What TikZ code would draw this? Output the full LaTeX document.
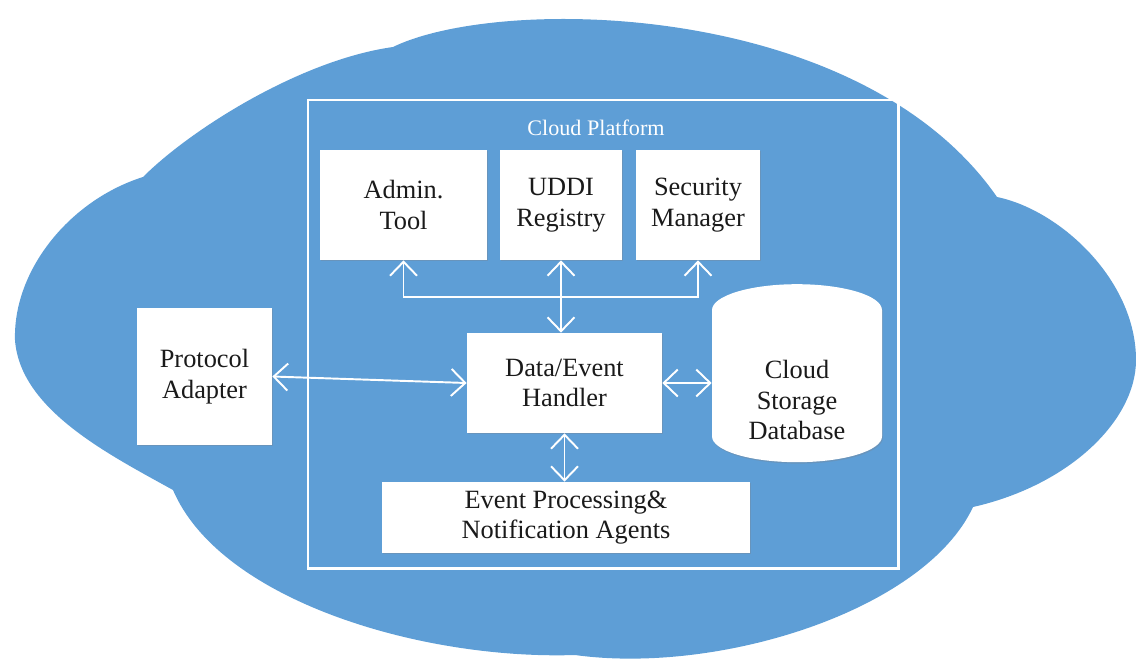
\documentclass[tikz,border=0pt]{standalone}
\usepackage{fontspec}
\setmainfont{Liberation Serif}
\usepackage{xcolor}
\usepackage{tikz}
\usetikzlibrary{arrows.meta, positioning, shapes.geometric, shadows}
\definecolor{cloudblue}{HTML}{5E9ED6}
\definecolor{textprimary}{HTML}{1A1A1A}

\begin{document}
\begin{tikzpicture}[
    >={Straight Barb[length=2.8mm, width=5.4mm, line width=1.1pt]},
    blk/.style={fill=white, inner sep=2pt, align=center, text=textprimary,
      font=\fontsize{15}{17.5}\selectfont,
      drop shadow={shadow xshift=0.5pt, shadow yshift=-0.8pt, opacity=0.3}},
    store/.style={cylinder, shape border rotate=90, aspect=0.5, fill=white, draw=none,
      inner sep=2pt, align=center, text=textprimary, font=\fontsize{15}{17.5}\selectfont,
      drop shadow={shadow xshift=0.5pt, shadow yshift=-0.8pt, opacity=0.3}},
    lnk/.style={white, line width=1.1pt},
    frame/.style={draw=white, line width=1.7pt}]

  \useasboundingbox (0,0) rectangle (22.72,-13.22);

  % The cloud behind everything.
  \fill[cloudblue] (2.86,-3.54) .. controls (3.8,-2.6) and (6.0,-1.2) .. (7.86,-0.94)
    .. controls (10.0,0.1) and (17.2,0) .. (19.94,-3.94)
    .. controls (21.2,-4.2) and (22.72,-5.6) .. (22.72,-7.2)
    .. controls (22.72,-8.4) and (21.4,-9.7) .. (19.46,-10.14)
    .. controls (18.5,-12.2) and (14.4,-13.5) .. (11.5,-13.1)
    .. controls (8.4,-13.2) and (4.4,-12.0) .. (3.46,-9.8)
    .. controls (2.2,-9.1) and (0.4,-8.2) .. (0.3,-6.8)
    .. controls (0.26,-5.4) and (1.4,-4.0) .. cycle;

  % The platform frame and its title.
  \draw[frame] (6.16,-2.0) rectangle (17.96,-11.36);
  \node[white, font=\fontsize{12.6}{15}\selectfont] (title) at (11.92,-2.56) {Cloud Platform};

  % Top row of services.
  \node[blk, minimum width=3.34cm, minimum height=2.2cm] (admin) at (8.07,-4.1) {Admin.\\Tool};
  \node[blk, minimum width=2.44cm, minimum height=2.2cm] (uddi) at (11.22,-4.1) {UDDI\\Registry};
  \node[blk, minimum width=2.48cm, minimum height=2.2cm] (sec) at (13.96,-4.1) {Security\\Manager};

  % Middle and bottom.
  \node[blk, minimum width=3.9cm, minimum height=2.0cm] (handler) at (11.29,-7.66) {Data/Event\\Handler};
  \node[store, minimum width=3.4cm, minimum height=3.4cm] (db) at (15.94,-7.8) {\rule{0pt}{7.7mm}Cloud\\Storage\\Database};
  \node[blk, minimum width=7.36cm, minimum height=1.42cm] (agents) at (11.32,-10.35) {Event Processing\&\\Notification Agents};
  \node[blk, minimum width=2.7cm, minimum height=2.74cm] (adapter) at (4.09,-7.53) {Protocol\\Adapter};

  % Connectors.
  \coordinate (bus) at (11.22,-5.94);
  \draw[lnk, <->] (uddi.south |- handler.north) -- (uddi.south);
  \draw[lnk, ->] (bus) -| (admin.south);
  \draw[lnk, ->] (bus) -| (sec.south);
  \draw[lnk, <->] (adapter.east) -- (handler.west);
  \draw[lnk, <->] (handler.east) -- (handler.east -| db.west);
  \draw[lnk, <->] (handler.south) -- (handler.south |- agents.north);
\end{tikzpicture}
\end{document}
